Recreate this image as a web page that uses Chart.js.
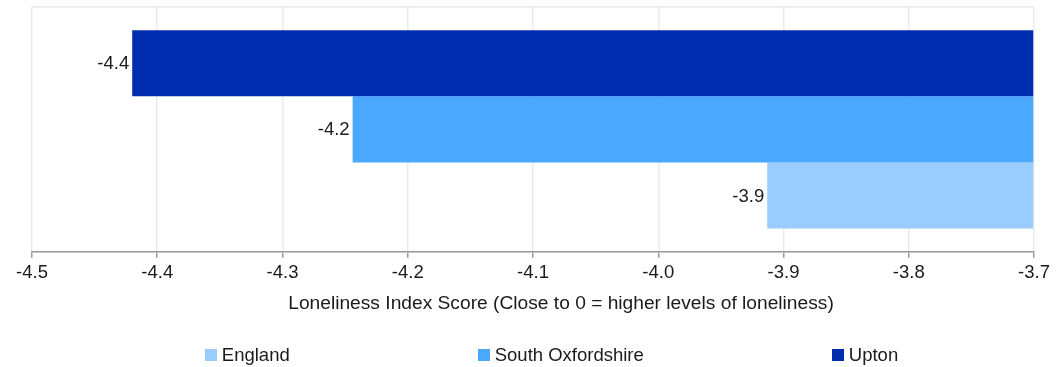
<!DOCTYPE html>
<html>
<head>
<meta charset="utf-8">
<script src="https://cdn.jsdelivr.net/npm/chart.js@4"></script>
<style>
html,body{margin:0;padding:0;background:#fff;}
#wrap{width:1057px;height:367px;position:relative;}
</style>
</head>
<body>
<div id="wrap"><canvas id="c"></canvas></div>
<script>
const categories = ["Loneliness"];
const seriesNames = ["Upton", "South Oxfordshire", "England"];
const seriesValues = [-4.42, -4.244, -3.913];
const seriesLabels = ["-4.4", "-4.2", "-3.9"];
const seriesColors = ["#002db0", "#4ba8ff", "#99ccff"];
const legendOrder = ["England", "South Oxfordshire", "Upton"];
const barBase = -3.7;
const axisMin = -4.5, axisMax = -3.7, axisStep = 0.1;
const axisTitle = "Loneliness Index Score (Close to 0 = higher levels of loneliness)";

const FONT = "'Liberation Sans', Arial, sans-serif";
const FS = 18.5;
const TITLE_FS = 19.2;

const labelPlugin = {
  id: 'barLabels',
  afterDatasetsDraw(chart) {
    const ctx = chart.ctx;
    ctx.save();
    ctx.font = FS + "px " + FONT;
    ctx.fillStyle = "#1a1a1a";
    ctx.textAlign = "right";
    ctx.textBaseline = "middle";
    chart.data.datasets.forEach((ds, i) => {
      const meta = chart.getDatasetMeta(i);
      meta.data.forEach((el) => {
        ctx.fillText(seriesLabels[i], el.x - 3, el.y + 1);
      });
    });
    ctx.restore();
  }
};

const titlePlugin = {
  id: 'axisTitleShift',
  afterDraw(chart) {
    const ctx = chart.ctx;
    const xs = chart.scales.x;
    ctx.save();
    ctx.font = TITLE_FS + "px " + FONT;
    ctx.fillStyle = "#1a1a1a";
    ctx.textAlign = "center";
    ctx.textBaseline = "bottom";
    ctx.fillText(axisTitle, (xs.left + xs.right) / 2 + 28, xs.bottom - 2);
    ctx.restore();
  }
};

const legendPlugin = {
  id: 'bottomLegend',
  afterDraw(chart) {
    const ctx = chart.ctx;
    ctx.save();
    ctx.font = FS + "px " + FONT;
    ctx.textBaseline = "middle";
    ctx.textAlign = "left";
    const box = 12, gapText = 5, gapItem = 188;
    const items = legendOrder.map(n => {
      const i = seriesNames.indexOf(n);
      return { name: n, color: seriesColors[i], w: box + gapText + ctx.measureText(n).width };
    });
    const total = items.reduce((s, it) => s + it.w, 0) + gapItem * (items.length - 1);
    let x = (chart.width - total) / 2 + 23;
    const y = chart.height - 12;
    items.forEach(it => {
      ctx.fillStyle = it.color;
      ctx.fillRect(Math.round(x), Math.round(y - box / 2), box, box);
      ctx.fillStyle = "#1a1a1a";
      ctx.fillText(it.name, x + box + gapText, y + 1);
      x += it.w + gapItem;
    });
    ctx.restore();
  }
};

new Chart(document.getElementById('c'), {
  type: 'bar',
  data: {
    labels: categories,
    datasets: seriesNames.map((n, i) => ({
      label: n,
      data: [seriesValues[i]],
      base: barBase,
      backgroundColor: seriesColors[i],
      borderWidth: 0,
      barPercentage: 1.0,
      categoryPercentage: 0.81
    }))
  },
  options: {
    indexAxis: 'y',
    responsive: true,
    maintainAspectRatio: false,
    animation: false,
    layout: { padding: { left: 32, right: 23, top: 7, bottom: 52 } },
    scales: {
      x: {
        min: axisMin, max: axisMax,
        ticks: {
          stepSize: axisStep,
          color: "#1a1a1a",
          font: { size: FS, family: FONT },
          padding: 4,
          maxRotation: 0,
          autoSkip: false,
          callback: v => Number(v).toFixed(1)
        },
        grid: { color: "#ebebeb", lineWidth: 1.5, tickColor: "#999", tickLength: 6 },
        border: { color: "#999", width: 1.5 },
        title: { display: true, text: axisTitle, color: "rgba(0,0,0,0)", font: { size: TITLE_FS, family: FONT }, padding: { top: 4, bottom: 0 } }
      },
      y: {
        ticks: { display: false },
        grid: { color: "#ebebeb", lineWidth: 1.5, drawTicks: false, offset: true },
        border: { display: false }
      }
    },
    plugins: {
      legend: { display: false },
      tooltip: { enabled: false }
    }
  },
  plugins: [labelPlugin, titlePlugin, legendPlugin]
});
</script>
</body>
</html>
